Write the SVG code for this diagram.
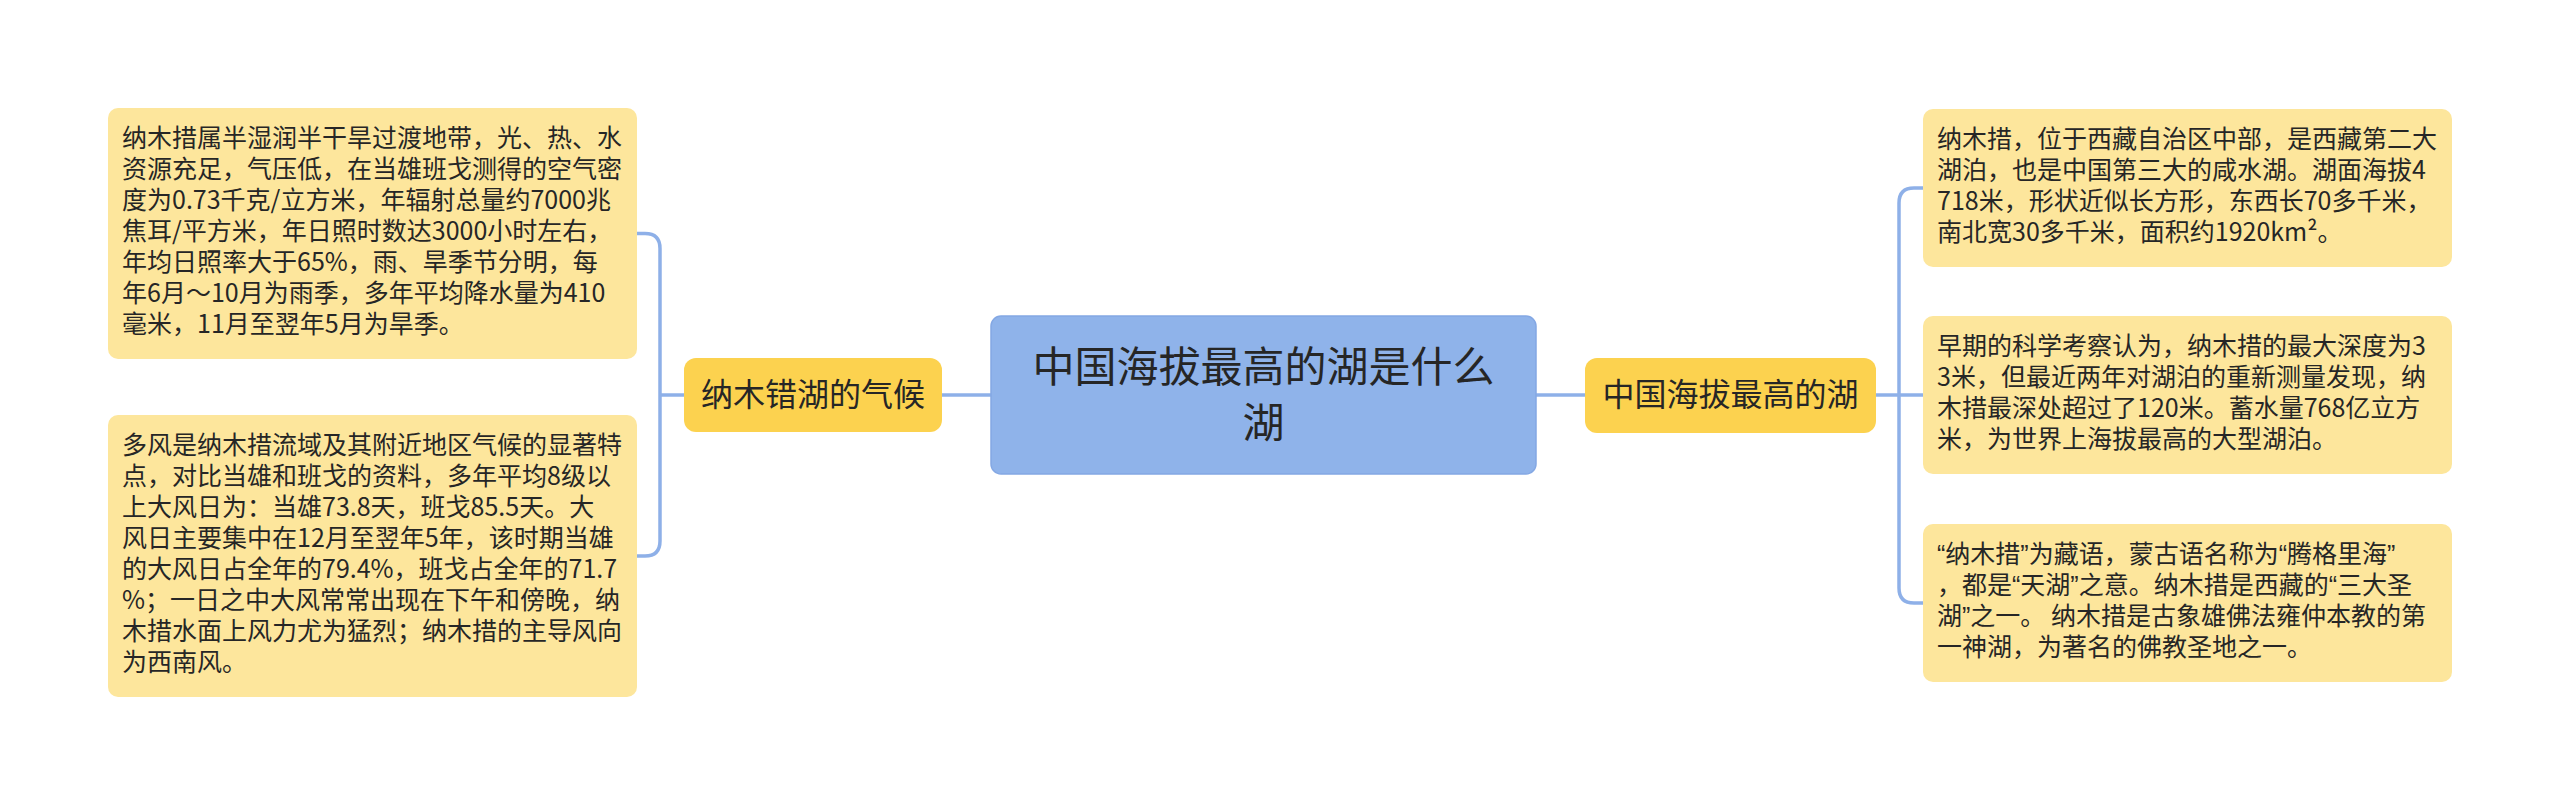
<svg xmlns="http://www.w3.org/2000/svg" width="2560" height="807" viewBox="0 0 2560 807">
<style>
.leaf{fill:#fde69c;}
.mid{fill:#fcd24f;}
.root{fill:#8fb3ea;stroke:#84a8e4;stroke-width:1.5;}
.lt{font-family:"Noto Sans CJK SC","Noto Sans",sans-serif;font-size:25px;fill:#262626;}
.q{font-family:"Liberation Sans","Noto Sans",sans-serif;}
.mt{font-family:"Noto Sans CJK SC","Noto Sans",sans-serif;font-size:32px;fill:#262626;text-anchor:middle;}
.rt{font-family:"Noto Sans CJK SC","Noto Sans",sans-serif;font-size:42px;fill:#262626;text-anchor:middle;}
.cn{fill:none;stroke:#8eb0e8;stroke-width:3.5;}
</style>
<rect width="2560" height="807" fill="#ffffff"/>
<g id="connectors">
<path class="cn" d="M942 395 H991"/>
<path class="cn" d="M684 395 H660"/>
<path class="cn" d="M637 233.5 H645 Q660 233.5 660 248.5 V541 Q660 556 645 556 H637"/>
<path class="cn" d="M1536 395 H1585"/>
<path class="cn" d="M1876 395 H1923"/>
<path class="cn" d="M1923 188 H1914 Q1899 188 1899 203 V588 Q1899 603 1914 603 H1923"/>
</g>
<g id="root">
<rect class="root" x="991" y="316" width="545" height="158" rx="10"/>
<text class="rt" x="1263.5" y="382">中国海拔最高的湖是什么</text>
<text class="rt" x="1263.5" y="438">湖</text>
</g>
<g id="climate">
<rect class="mid" x="684" y="358" width="258" height="74" rx="12"/>
<text class="mt" x="813" y="406">纳木错湖的气候</text>
</g>
<g id="highest">
<rect class="mid" x="1585" y="358" width="291" height="75" rx="12"/>
<text class="mt" x="1730.5" y="406">中国海拔最高的湖</text>
</g>
<g id="leaf-climate-1">
<rect class="leaf" x="108" y="108" width="529" height="251" rx="10"/>
<text class="lt" x="122" y="147">纳木措属半湿润半干旱过渡地带，光、热、水</text>
<text class="lt" x="122" y="178">资源充足，气压低，在当雄班戈测得的空气密</text>
<text class="lt" x="122" y="209">度为0.73千克/立方米，年辐射总量约7000兆</text>
<text class="lt" x="122" y="240">焦耳/平方米，年日照时数达3000小时左右，</text>
<text class="lt" x="122" y="271">年均日照率大于65%，雨、旱季节分明，每</text>
<text class="lt" x="122" y="302">年6月～10月为雨季，多年平均降水量为410</text>
<text class="lt" x="122" y="333">毫米，11月至翌年5月为旱季。</text>
</g>
<g id="leaf-climate-2">
<rect class="leaf" x="108" y="415" width="529" height="282" rx="10"/>
<text class="lt" x="122" y="454">多风是纳木措流域及其附近地区气候的显著特</text>
<text class="lt" x="122" y="485">点，对比当雄和班戈的资料，多年平均8级以</text>
<text class="lt" x="122" y="516">上大风日为：当雄73.8天，班戈85.5天。大</text>
<text class="lt" x="122" y="547">风日主要集中在12月至翌年5年，该时期当雄</text>
<text class="lt" x="122" y="578">的大风日占全年的79.4%，班戈占全年的71.7</text>
<text class="lt" x="122" y="609">%；一日之中大风常常出现在下午和傍晚，纳</text>
<text class="lt" x="122" y="640">木措水面上风力尤为猛烈；纳木措的主导风向</text>
<text class="lt" x="122" y="671">为西南风。</text>
</g>
<g id="leaf-lake-1">
<rect class="leaf" x="1923" y="109" width="529" height="158" rx="10"/>
<text class="lt" x="1937" y="148">纳木措，位于西藏自治区中部，是西藏第二大</text>
<text class="lt" x="1937" y="179">湖泊，也是中国第三大的咸水湖。湖面海拔4</text>
<text class="lt" x="1937" y="210">718米，形状近似长方形，东西长70多千米，</text>
<text class="lt" x="1937" y="241">南北宽30多千米，面积约1920km²。</text>
</g>
<g id="leaf-lake-2">
<rect class="leaf" x="1923" y="316" width="529" height="158" rx="10"/>
<text class="lt" x="1937" y="355">早期的科学考察认为，纳木措的最大深度为3</text>
<text class="lt" x="1937" y="386">3米，但最近两年对湖泊的重新测量发现，纳</text>
<text class="lt" x="1937" y="417">木措最深处超过了120米。蓄水量768亿立方</text>
<text class="lt" x="1937" y="448">米，为世界上海拔最高的大型湖泊。</text>
</g>
<g id="leaf-lake-3">
<rect class="leaf" x="1923" y="524" width="529" height="158" rx="10"/>
<text class="lt" x="1937" y="563"><tspan class="q">“</tspan>纳木措<tspan class="q">”</tspan>为藏语，蒙古语名称为<tspan class="q">“</tspan>腾格里海<tspan class="q">”</tspan></text>
<text class="lt" x="1937" y="594">，都是<tspan class="q">“</tspan>天湖<tspan class="q">”</tspan>之意。纳木措是西藏的<tspan class="q">“</tspan>三大圣</text>
<text class="lt" x="1937" y="625">湖<tspan class="q">”</tspan>之一。 纳木措是古象雄佛法雍仲本教的第</text>
<text class="lt" x="1937" y="656">一神湖，为著名的佛教圣地之一。</text>
</g>
</svg>
